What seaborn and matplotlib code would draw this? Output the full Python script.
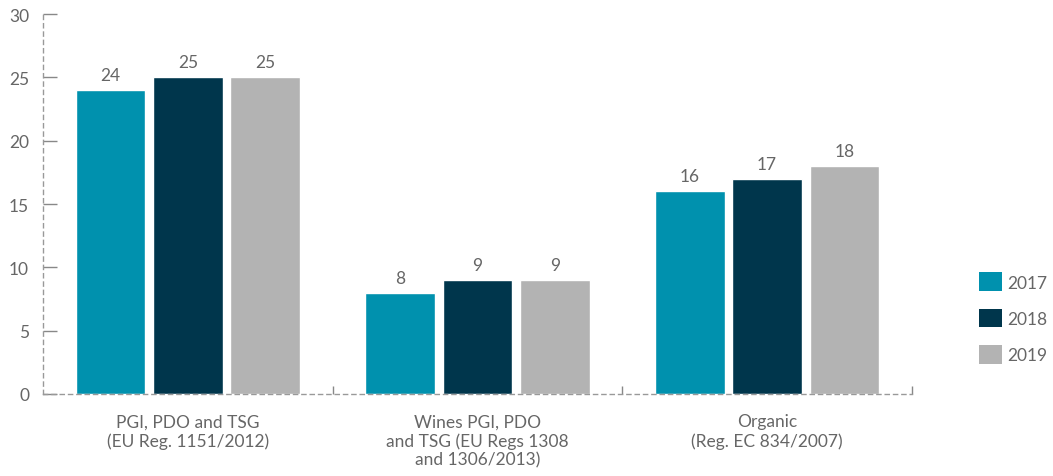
import matplotlib
matplotlib.use("Agg")
import matplotlib.pyplot as plt
import seaborn as sns
import pandas as pd
from matplotlib.patches import Patch
from matplotlib.ticker import FixedLocator

categories = ["PGI, PDO and TSG\n(EU Reg. 1151/2012)",
              "Wines PGI, PDO\nand TSG (EU Regs 1308\nand 1306/2013)",
              "Organic\n(Reg. EC 834/2007)"]
years = ["2017", "2018", "2019"]
v2017 = [24, 8, 16]
v2018 = [25, 9, 17]
v2019 = [25, 9, 18]
colors = ["#0091AE", "#00364C", "#B3B3B3"]
text_color = "#666666"

rows = []
for y, vals in zip(years, [v2017, v2018, v2019]):
    for c, v in zip(categories, vals):
        rows.append({"category": c, "year": y, "value": v})
df = pd.DataFrame(rows)

sns.set_theme(style="white")
plt.rcParams['font.family'] = ['Lato', 'DejaVu Sans']

fig = plt.figure(figsize=(10.53, 4.77), dpi=100)
ax = fig.add_axes([43/1053, 1-395/477, (912-43)/1053, (395-15)/477])

sns.barplot(data=df, x="category", y="value", hue="year", palette=colors,
            width=0.8, gap=0.1, ax=ax, legend=False, saturation=1)

for cont in ax.containers:
    ax.bar_label(cont, padding=5, fontsize=12.5, color=text_color)

ax.set_ylim(0, 30)
ax.set_xlim(-0.5, 2.5)
ax.set_yticks([0, 5, 10, 15, 20, 25, 30])
ax.set_xlabel("")
ax.set_ylabel("")

for s in ["top", "right"]:
    ax.spines[s].set_visible(False)
for s in ["left", "bottom"]:
    ax.spines[s].set_linestyle((0, (3, 3)))
    ax.spines[s].set_color("#999999")
    ax.spines[s].set_linewidth(1)
    ax.spines[s].set_zorder(5)

ax.tick_params(axis="y", left=True, direction="in", length=10, width=1, color="#888888",
               labelsize=12.5, labelcolor=text_color, pad=10)
ax.tick_params(axis="x", which="major", bottom=False, length=0, labelsize=12.5,
               labelcolor=text_color, pad=14)
ax.xaxis.set_minor_locator(FixedLocator([0.5, 1.5, 2.5]))
ax.tick_params(axis="x", which="minor", bottom=True, direction="in", length=6, width=1,
               color="#888888")
for lab in ax.get_xticklabels():
    lab.set_linespacing(1.2)

handles = [Patch(facecolor=c, edgecolor="none", label=y) for c, y in zip(colors, years)]
leg = fig.legend(handles=handles, loc="center left", bbox_to_anchor=(979/1053, 1-319/477),
                 frameon=False, fontsize=12.5, handlelength=1.3, handleheight=1.3,
                 handletextpad=0.3, labelspacing=1.0, labelcolor=text_color,
                 borderpad=0, borderaxespad=0)

fig.savefig("out.png", dpi=100)
